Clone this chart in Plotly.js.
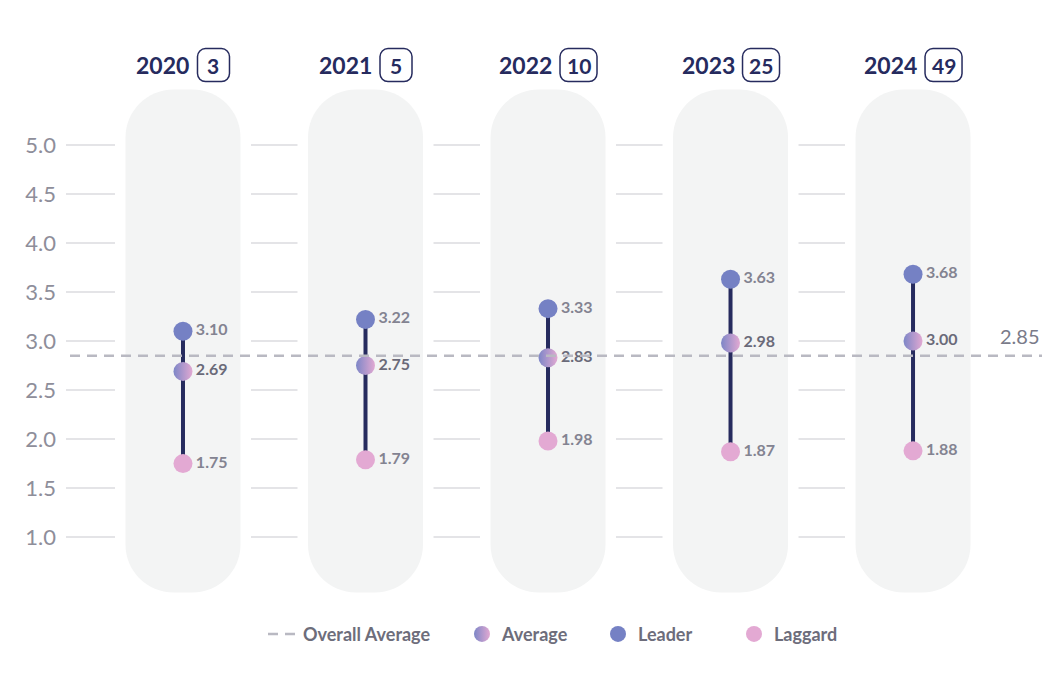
<!DOCTYPE html>
<html>
<head>
<meta charset="utf-8">
<script src="https://cdn.plot.ly/plotly-3.0.1.min.js"></script>
<style>html,body{margin:0;padding:0;background:#fff;}#chart{width:1064px;height:688px;}</style>
</head>
<body>
<div id="chart"></div>
<script>
// ---- data ----
const years = ['2020', '2021', '2022', '2023', '2024'];
const counts = ['3', '5', '10', '25', '49'];
const leader = [3.10, 3.22, 3.33, 3.63, 3.68];
const average = [2.69, 2.75, 2.83, 2.98, 3.00];
const laggard = [1.75, 1.79, 1.98, 1.87, 1.88];
const overallAverage = 2.85;
const yTickVals = [1.0, 1.5, 2.0, 2.5, 3.0, 3.5, 4.0, 4.5, 5.0];
const yTickText = ['1.0', '1.5', '2.0', '2.5', '3.0', '3.5', '4.0', '4.5', '5.0'];

// ---- styling ----
const NAVY = '#262b5e';
const LEADER_C = '#7581c4';
const LAGGARD_C = '#e3a9d3';
const AVG_C = '#7d86c7';
const AVG_C2 = '#e2a9d2';
const LABEL_C = '#838391';
const FONT = 'Lato, "Open Sans", sans-serif';

// rounded rectangle path with circular (cubic) corners, pixel offsets
function rr(x0, y0, x1, y1, r) {
  const k = r * 0.5523;
  return `M${x0 + r},${y0} H${x1 - r} C${x1 - r + k},${y0} ${x1},${y0 + r - k} ${x1},${y0 + r} ` +
    `V${y1 - r} C${x1},${y1 - r + k} ${x1 - r + k},${y1} ${x1 - r},${y1} ` +
    `H${x0 + r} C${x0 + r - k},${y1} ${x0},${y1 - r + k} ${x0},${y1 - r} ` +
    `V${y0 + r} C${x0},${y0 + r - k} ${x0 + r - k},${y0} ${x0 + r},${y0} Z`;
}

// connectors
const cx = [], cy = [];
years.forEach((yr, i) => { cx.push(yr, yr, null); cy.push(leader[i], laggard[i], null); });

const fmt = a => a.map(v => v.toFixed(2));

const PLOT_L = 66, PLOT_W = 912;
const px2paper = p => (p - PLOT_L) / PLOT_W;

const traces = [
  {
    x: cx, y: cy, type: 'scatter', mode: 'lines',
    line: {color: NAVY, width: 4}, showlegend: false, hoverinfo: 'skip'
  },
  {
    x: years, y: laggard, type: 'scatter', mode: 'markers+text', name: 'Laggard',
    marker: {color: LAGGARD_C, size: 19},
    text: fmt(laggard), textposition: 'middle right',
    textfont: {family: FONT, size: 16, color: LABEL_C, weight: 700},
    legend: 'legend4'
  },
  {
    x: years, y: leader, type: 'scatter', mode: 'markers+text', name: 'Leader',
    marker: {color: LEADER_C, size: 19},
    text: fmt(leader), textposition: 'middle right',
    textfont: {family: FONT, size: 16, color: LABEL_C, weight: 700},
    legend: 'legend3'
  },
  {
    x: years, y: average, type: 'scatter', mode: 'markers+text', name: 'Average',
    marker: {color: AVG_C, size: 19, gradient: {type: 'horizontal', color: AVG_C2}},
    text: fmt(average), textposition: 'middle right',
    textfont: {family: FONT, size: 16, color: '#6a6a79', weight: 700},
    legend: 'legend2'
  }
];

const shapes = [];
const annotations = [];
const HEADER_Y = 1.041;

years.forEach((yr, i) => {
  // white backing to cut gridlines around each column
  shapes.push({
    type: 'path', layer: 'between', xref: 'x', yref: 'y',
    xsizemode: 'pixel', ysizemode: 'pixel', xanchor: i, yanchor: 3.0,
    path: rr(-68, -252, 68, 252, 52),
    fillcolor: '#ffffff', line: {width: 0}
  });
  shapes.push({
    type: 'path', layer: 'between', xref: 'x', yref: 'y',
    xsizemode: 'pixel', ysizemode: 'pixel', xanchor: i, yanchor: 3.0,
    path: rr(-57.5, -251.5, 57.5, 251.5, 48),
    fillcolor: '#f3f4f4', line: {width: 0}
  });
  // header
  const yearW = 53, gap = 8;
  const boxW = counts[i].length === 1 ? 32 : 37;
  const left = -(yearW + gap + boxW) / 2;
  const bx0 = left + yearW + gap, bx1 = bx0 + boxW;
  annotations.push({
    xref: 'x', yref: 'paper', x: i, y: HEADER_Y, xanchor: 'left', yanchor: 'middle',
    xshift: left - 2, showarrow: false, text: '<b>' + yr + '</b>',
    font: {family: FONT, size: 23, color: NAVY}
  });
  shapes.push({
    type: 'path', layer: 'above', xref: 'x', yref: 'paper',
    xsizemode: 'pixel', ysizemode: 'pixel', xanchor: i, yanchor: HEADER_Y,
    path: rr(bx0, -16.5, bx1, 16.5, 8),
    fillcolor: 'rgba(0,0,0,0)', line: {color: NAVY, width: 1.5}
  });
  annotations.push({
    xref: 'x', yref: 'paper', x: i, y: HEADER_Y, xanchor: 'center', yanchor: 'middle',
    xshift: (bx0 + bx1) / 2, showarrow: false, text: '<b>' + counts[i] + '</b>',
    font: {family: FONT, size: 21, color: NAVY}
  });
});

// overall average dashed line
shapes.push({
  type: 'line', layer: 'above', xref: 'paper', yref: 'y',
  x0: px2paper(70), x1: px2paper(1042), y0: overallAverage, y1: overallAverage,
  line: {color: '#b9b9c2', width: 2.5, dash: '10px,7px'},
  name: 'Overall Average', showlegend: true, legend: 'legend'
});
annotations.push({
  xref: 'paper', yref: 'y', x: px2paper(1042), y: overallAverage, xanchor: 'right', yanchor: 'bottom',
  yshift: 6, showarrow: false, text: overallAverage.toFixed(2),
  font: {family: FONT, size: 20, color: '#7a7b89'}
});

const legendFont = {family: FONT, size: 18, color: '#6d6d7b', weight: 700};
const mkLegend = px => ({
  orientation: 'h', x: px2paper(px), xanchor: 'left', y: -0.075, yanchor: 'middle',
  font: legendFont, bgcolor: 'rgba(0,0,0,0)', borderwidth: 0
});

const layout = {
  width: 1064, height: 688,
  margin: {l: PLOT_L, r: 1064 - PLOT_L - PLOT_W, t: 86, b: 92},
  paper_bgcolor: '#ffffff', plot_bgcolor: '#ffffff',
  font: {family: FONT},
  showlegend: true,
  legend: mkLegend(263),
  legend2: mkLegend(462),
  legend3: mkLegend(598),
  legend4: mkLegend(734),
  xaxis: {
    type: 'category', categoryorder: 'array', categoryarray: years,
    range: [-0.641, 4.356], showgrid: false, zeroline: false, showline: false,
    showticklabels: false, ticks: '', fixedrange: true
  },
  yaxis: {
    range: [0.4, 5.6], tickmode: 'array', tickvals: yTickVals, ticktext: yTickText,
    showgrid: true, gridcolor: '#e4e4e7', gridwidth: 1.5, zeroline: false, showline: false,
    ticks: '', ticklabelstandoff: 9, automargin: false,
    tickfont: {family: 'Lato', size: 22, color: '#8e8e9a'}, fixedrange: true
  },
  shapes: shapes,
  annotations: annotations
};

Plotly.newPlot('chart', traces, layout, {displayModeBar: false, staticPlot: true});
</script>
</body>
</html>
